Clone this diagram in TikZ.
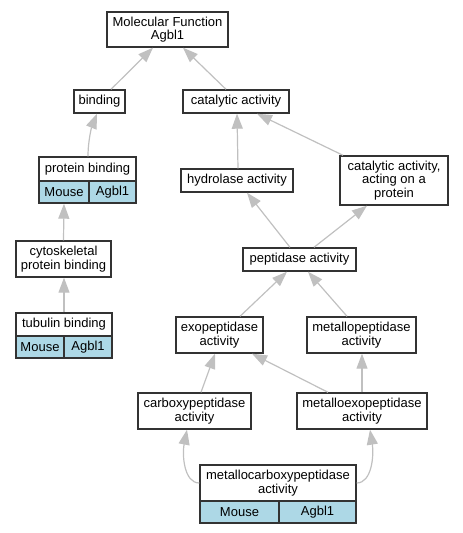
\documentclass[tikz,border=0pt]{standalone}
\usepackage{fontspec}
\setmainfont{Liberation Sans}
\usetikzlibrary{arrows.meta}
\definecolor{edgegray}{HTML}{C0C0C0}
\definecolor{boxline}{HTML}{333333}
\definecolor{lblue}{HTML}{ADD8E6}
\begin{document}
\begin{tikzpicture}[x=1pt,y=-1pt,
  term/.style={draw=boxline,line width=1.4pt,fill=white,inner sep=0pt,align=center,
    font=\fontsize{13}{13.4}\selectfont},
  org/.style={term,fill=lblue},
  edge/.style={draw=edgegray,line width=1.2pt,-{Triangle[length=15pt,width=11pt]}}]
\useasboundingbox (0,0) rectangle (463,533);
% nodes
\node[term,minimum width=121pt,minimum height=35pt] (mf) at (167.5,29.5) {Molecular Function\\Agbl1};
\node[term,minimum width=51pt,minimum height=23pt] (bind) at (99.5,101.5) {binding};
\node[term,minimum width=106pt,minimum height=23pt] (cat) at (236,101.5) {catalytic activity};
\node[term,minimum width=97pt,minimum height=24pt] (pb) at (87.5,169) {protein binding};
\node[org,minimum width=50pt,minimum height=22pt] (pbm) at (64,192) {Mouse};
\node[org,minimum width=47pt,minimum height=22pt] (pba) at (112.5,192) {Agbl1};
\node[term,minimum width=112pt,minimum height=23pt] (hyd) at (237,180.5) {hydrolase activity};
\node[term,minimum width=108pt,minimum height=49pt] (cap) at (394,180.5) {catalytic activity,\\acting on a\\protein};
\node[term,minimum width=95pt,minimum height=36pt] (cyto) at (63.5,259) {cytoskeletal\\protein binding};
\node[term,minimum width=113pt,minimum height=23pt] (pep) at (299.5,259.5) {peptidase activity};
\node[term,minimum width=96pt,minimum height=23pt] (tub) at (64,324.5) {tubulin binding};
\node[org,minimum width=48pt,minimum height=22pt] (tubm) at (40,347) {Mouse};
\node[org,minimum width=48pt,minimum height=22pt] (tuba) at (88,347) {Agbl1};
\node[term,minimum width=87pt,minimum height=36pt] (exo) at (219.5,335) {exopeptidase\\activity};
\node[term,minimum width=109pt,minimum height=36pt] (mpep) at (361.5,335) {metallopeptidase\\activity};
\node[term,minimum width=113pt,minimum height=36pt] (carb) at (194.5,411) {carboxypeptidase\\activity};
\node[term,minimum width=130pt,minimum height=36pt] (mexo) at (362,411) {metalloexopeptidase\\activity};
\node[term,minimum width=156pt,minimum height=36pt] (mc) at (278,483) {metallocarboxypeptidase\\activity};
\node[org,minimum width=79pt,minimum height=22pt] (mcm) at (239.5,512) {Mouse};
\node[org,minimum width=77pt,minimum height=22pt] (mca) at (317.5,512) {Agbl1};
% edges
\draw[edge] ([xshift=11.5pt]bind.north) -- ([xshift=-14.5pt]mf.south);
\draw[edge] ([xshift=-10pt]cat.north) -- ([xshift=15.5pt]mf.south);
\draw[edge] ([xshift=0.5pt]pb.north) .. controls (88,140) and (92,126) .. ([xshift=-2.5pt]bind.south);
\draw[edge] ([xshift=1pt]hyd.north) -- ([xshift=1pt]cat.south);
\draw[edge] ([xshift=-51pt]cap.north) -- ([xshift=21pt]cat.south);
\draw[edge] (cyto.north) -- (pbm.south);
\draw[edge] (tub.north) -- ([xshift=0.5pt]cyto.south);
\draw[edge] ([xshift=-9.5pt]pep.north) -- ([xshift=10pt]hyd.south);
\draw[edge] ([xshift=14.5pt]pep.north) -- ([xshift=-27pt]cap.south);
\draw[edge] ([xshift=20.5pt]exo.north) -- ([xshift=-12.5pt]pep.south);
\draw[edge] ([xshift=-14.5pt]mpep.north) -- ([xshift=8.5pt]pep.south);
\draw[edge] ([xshift=6.5pt]carb.north) -- ([xshift=-4.5pt]exo.south);
\draw[edge] ([xshift=-34pt]mexo.north) -- ([xshift=32.5pt]exo.south);
\draw[edge] (mexo.north) -- ([xshift=0.5pt]mpep.south);
\draw[edge] (mc.west) .. controls (184,483) and (182,455) .. ([xshift=-7.5pt]carb.south);
\draw[edge] (mc.east) .. controls (372,483) and (374,455) .. ([xshift=8pt]mexo.south);
\end{tikzpicture}
\end{document}
